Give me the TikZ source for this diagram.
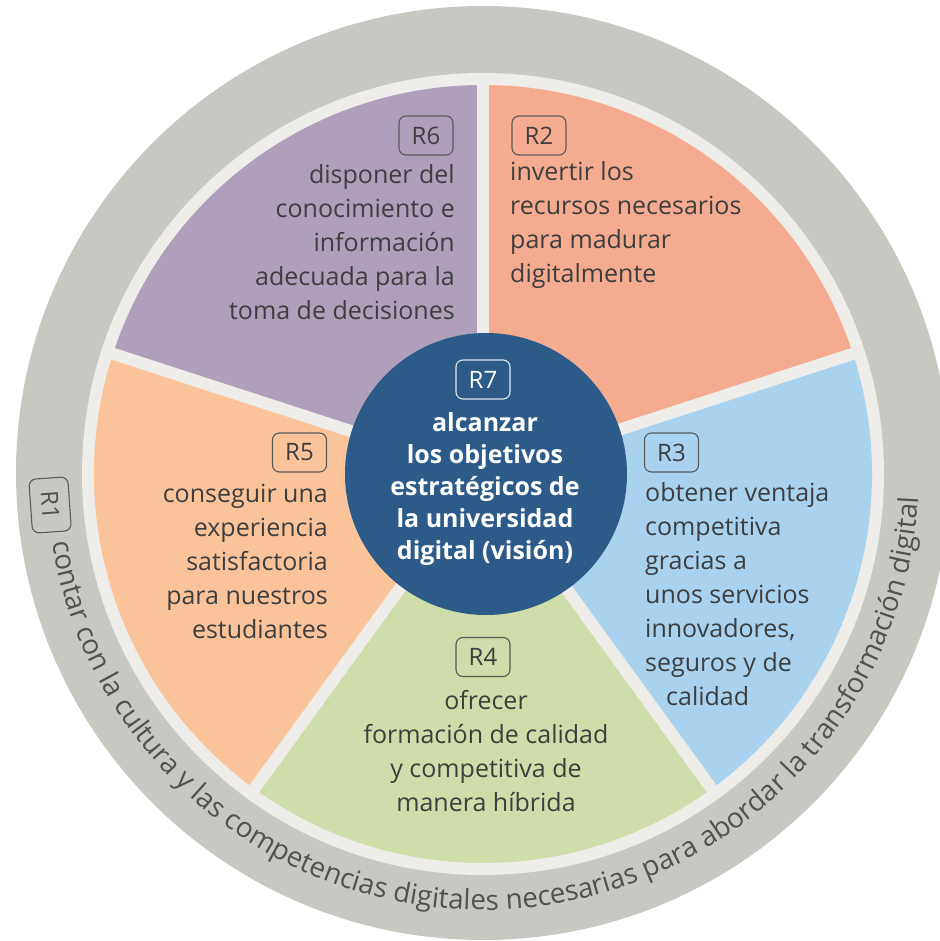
\documentclass[tikz,border=0pt]{standalone}
\usepackage{fontspec}
\setmainfont{Open Sans}
\usetikzlibrary{decorations.text}
\definecolor{ringgrey}{HTML}{C8C8C2}
\definecolor{gapc}{HTML}{EEEDE9}
\definecolor{cRtwo}{HTML}{F5AB90}
\definecolor{cRthree}{HTML}{A9D2EE}
\definecolor{cRfour}{HTML}{CEDDAA}
\definecolor{cRfive}{HTML}{FBC39A}
\definecolor{cRsix}{HTML}{AF9FBA}
\definecolor{cRseven}{HTML}{2C5B8A}
\definecolor{txt}{HTML}{3E3E3E}
\definecolor{boxline}{HTML}{5A5A5A}
\definecolor{curvetxt}{HTML}{505153}
\begin{document}
\begin{tikzpicture}[x=1pt,y=1pt,
  rbox/.style={draw=boxline, line width=1.1pt, rounded corners=7pt, minimum width=54pt, minimum height=39pt, inner sep=0pt, text=txt, font=\fontsize{24}{24}\selectfont},
  body/.style={text=txt, inner sep=0pt, font=\fontsize{25}{34}\selectfont},
  vision/.style={text=white, inner sep=0pt, font=\bfseries\fontsize{25}{32}\selectfont, align=center},
  divider/.style={draw=gapc, line width=12pt},
]
\useasboundingbox (-483,-467) rectangle (456,474);
\fill[ringgrey] (0,1) circle[radius=467];
\fill[gapc] (0,0) circle[radius=401];
\fill[cRtwo] (0,0) -- (18:389) arc[start angle=18,end angle=90,radius=389] -- cycle;
\fill[cRsix] (0,0) -- (90:389) arc[start angle=90,end angle=162,radius=389] -- cycle;
\fill[cRfive] (0,0) -- (162:389) arc[start angle=162,end angle=234,radius=389] -- cycle;
\fill[cRfour] (0,0) -- (234:389) arc[start angle=234,end angle=306,radius=389] -- cycle;
\fill[cRthree] (0,0) -- (306:389) arc[start angle=306,end angle=378,radius=389] -- cycle;
\foreach \a in {90,18,-54,-126,162} \draw[divider] (0,0) -- (\a:395);
\fill[cRseven] (3,0) circle[radius=141];

\node[rbox] (r6box) at (-57,338.5) {R6};
\node[body, align=right, anchor=east] (r6txt) at (-28,231.5) {disponer del\\conocimiento e\\información\\adecuada para la\\toma de decisiones};

\node[rbox] (r2box) at (56,338.5) {R2};
\node[body, align=left, anchor=west] (r2txt) at (27,248.5) {invertir los\\recursos necesarios\\para madurar\\digitalmente};

\node[rbox] (r3box) at (188.5,21.5) {R3};
\node[body, align=left, anchor=west] (r3txt) at (162,-120.5) {obtener ventaja\\competitiva\\gracias a\\unos servicios\\innovadores,\\seguros y de\\\hspace*{21pt}calidad};

\node[rbox] (r5box) at (-183.5,21.5) {R5};
\node[body, align=right, anchor=east] (r5txt) at (-155,-87) {conseguir una\\experiencia\\satisfactoria\\para nuestros\\estudiantes};

\node[rbox] (r4box) at (0,-183) {R4};
\node[body, align=center] (r4txt) at (3,-277) {ofrecer\\formación de calidad\\y competitiva de\\manera híbrida};

\node[rbox, draw=white!85!cRseven, text=white] (r7box) at (0,94.5) {R7};
\node[vision] (r7txt) at (2,-15) {alcanzar\\los objetivos\\estratégicos de\\la universidad\\digital (visión)};

\node[rbox, draw=boxline, text=curvetxt, rotate=-86] (r1box) at (184.1:434) {R1};
\path[decorate, decoration={text along path, text color=curvetxt,
  text={|\fontsize{27.8}{28}\selectfont|contar con la cultura y las competencias digitales necesarias para abordar la transformación digital}}]
  (189:436) arc[start angle=189, end angle=368, radius=436];
\end{tikzpicture}
\end{document}
